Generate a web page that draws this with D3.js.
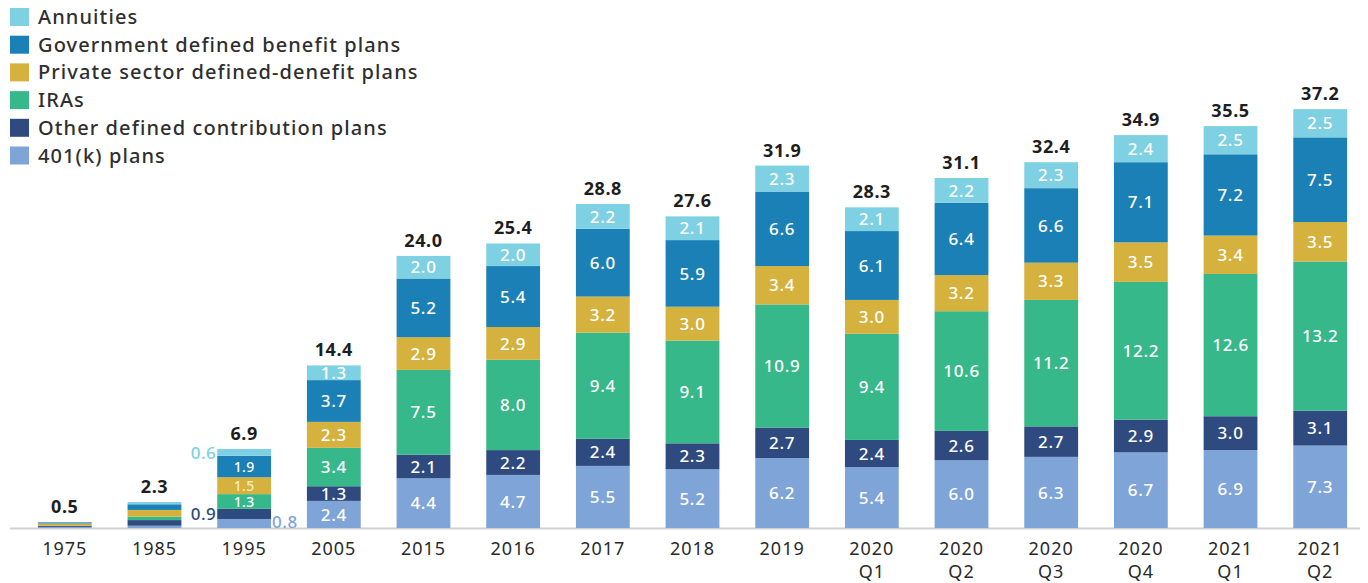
<!DOCTYPE html>
<html>
<head>
<meta charset="utf-8">
<script src="https://cdn.jsdelivr.net/npm/d3@7"></script>
<style>
  html, body { margin: 0; padding: 0; background: #fff; }
  svg { display: block; font-family: "Noto Sans", "Open Sans", sans-serif; }
</style>
</head>
<body>
<svg id="chart" width="1368" height="583"></svg>
<script>
// ---- Data ----
const categories = ["1975","1985","1995","2005","2015","2016","2017","2018","2019","2020 Q1","2020 Q2","2020 Q3","2020 Q4","2021 Q1","2021 Q2"];
const seriesNames = ["401(k) plans","Other defined contribution plans","IRAs","Private sector defined-denefit plans","Government defined benefit plans","Annuities"];
const k401      = [0.1, 0.2, 0.8, 2.4, 4.4, 4.7, 5.5, 5.2, 6.2, 5.4, 6.0, 6.3, 6.7, 6.9, 7.3];
const otherDC   = [0.1, 0.5, 0.9, 1.3, 2.1, 2.2, 2.4, 2.3, 2.7, 2.4, 2.6, 2.7, 2.9, 3.0, 3.1];
const iras      = [0.0, 0.3, 1.3, 3.4, 7.5, 8.0, 9.4, 9.1, 10.9, 9.4, 10.6, 11.2, 12.2, 12.6, 13.2];
const privateDB = [0.2, 0.6, 1.5, 2.3, 2.9, 2.9, 3.2, 3.0, 3.4, 3.0, 3.2, 3.3, 3.5, 3.4, 3.5];
const govDB     = [0.1, 0.5, 1.9, 3.7, 5.2, 5.4, 6.0, 5.9, 6.6, 6.1, 6.4, 6.6, 7.1, 7.2, 7.5];
const annuities = [0.0, 0.2, 0.6, 1.3, 2.0, 2.0, 2.2, 2.1, 2.3, 2.1, 2.2, 2.3, 2.4, 2.5, 2.5];
const totals    = [0.5, 2.3, 6.9, 14.4, 24.0, 25.4, 28.8, 27.6, 31.9, 28.3, 31.1, 32.4, 34.9, 35.5, 37.2];
const legendOrder = ["Annuities","Government defined benefit plans","Private sector defined-denefit plans","IRAs","Other defined contribution plans","401(k) plans"];
// label placement for small segments (1995): outside labels
const outsideLabels = [
  {cat: "1995", series: 5, side: "left"},
  {cat: "1995", series: 1, side: "left"},
  {cat: "1995", series: 0, side: "right"}
];
const noInnerLabels = ["1975","1985"];

// ---- Styles ----
const colors = {
  "401(k) plans": "#7fa4d8",
  "Other defined contribution plans": "#2e4a7f",
  "IRAs": "#36b88a",
  "Private sector defined-denefit plans": "#d5b13d",
  "Government defined benefit plans": "#1b80b5",
  "Annuities": "#7ed0e3"
};

const seriesArrays = [k401, otherDC, iras, privateDB, govDB, annuities];
const rows = categories.map((c, i) => {
  const o = {cat: c};
  seriesNames.forEach((s, j) => o[s] = seriesArrays[j][i]);
  return o;
});

const svg = d3.select("#chart");
const baseY = 528;
const x = d3.scaleBand().domain(categories).range([11, 1374]).paddingInner(0.4).paddingOuter(0.3);
const y = d3.scaleLinear().domain([0, 37.2]).range([baseY, 108]);

const stack = d3.stack().keys(seriesNames);
const stacked = stack(rows);

// axis line
svg.append("line")
  .attr("x1", 10).attr("x2", 1360)
  .attr("y1", baseY + 0.5).attr("y2", baseY + 0.5)
  .attr("stroke", "#d0d0d0").attr("stroke-width", 2);

// bars
const g = svg.append("g");
stacked.forEach((layer, li) => {
  g.selectAll(null).data(layer).enter().append("rect")
    .attr("x", d => x(d.data.cat))
    .attr("width", x.bandwidth())
    .attr("y", d => y(d[1]))
    .attr("height", d => Math.max(0, y(d[0]) - y(d[1])))
    .attr("fill", colors[layer.key]);
});

// inner labels
stacked.forEach((layer, li) => {
  layer.forEach((d, i) => {
    const cat = d.data.cat;
    if (noInnerLabels.includes(cat)) return;
    if (outsideLabels.some(o => o.cat === cat && o.series === li)) return;
    const v = d[1] - d[0];
    const cy = (y(d[0]) + y(d[1])) / 2;
    const small = cat === "1995";
    svg.append("text")
      .attr("x", x(cat) + x.bandwidth() / 2)
      .attr("y", cy)
      .attr("dy", "0.36em")
      .attr("text-anchor", "middle")
      .attr("fill", li === 3 && small ? "#f6ecc0" : "#ffffff")
      .attr("font-size", small ? 14 : 17)
      .attr("letter-spacing", small ? 0.3 : 0.7)
      .attr("font-weight", 500)
      .text(v.toFixed(1));
  });
});

// outside labels
outsideLabels.forEach(o => {
  const d = stacked[o.series].find(e => e.data.cat === o.cat);
  const v = d[1] - d[0];
  const cy = (y(d[0]) + y(d[1])) / 2;
  const left = o.side === "left";
  let yy = cy;
  if (o.series === 5) yy = y(d[1]) + 4;
  if (o.series === 0) yy = cy - 2;
  svg.append("text")
    .attr("x", left ? x(o.cat) - 1 : x(o.cat) + x.bandwidth() + 1)
    .attr("y", yy)
    .attr("dy", "0.36em")
    .attr("text-anchor", left ? "end" : "start")
    .attr("fill", colors[seriesNames[o.series]])
    .attr("font-size", 17)
    .attr("letter-spacing", 0.5)
    .attr("font-weight", 500)
    .text(v.toFixed(1));
});

// totals
svg.selectAll(".total").data(categories).enter().append("text")
  .attr("x", c => x(c) + x.bandwidth() / 2)
  .attr("y", (c, i) => {
    const top = stacked[stacked.length - 1][i][1];
    return y(top) - 9;
  })
  .attr("text-anchor", "middle")
  .attr("fill", "#1e1e1e")
  .attr("font-size", 18)
  .attr("letter-spacing", 0.6)
  .attr("font-weight", 700)
  .text((c, i) => totals[i].toFixed(1));

// x-axis labels
categories.forEach(c => {
  const parts = c.split(" ");
  const t = svg.append("text")
    .attr("x", x(c) + x.bandwidth() / 2)
    .attr("y", 555)
    .attr("text-anchor", "middle")
    .attr("fill", "#2a2a2a")
    .attr("font-size", 18)
    .attr("letter-spacing", 1);
  parts.forEach((p, k) => {
    t.append("tspan").attr("x", x(c) + x.bandwidth() / 2).attr("dy", k === 0 ? 0 : 23).text(p);
  });
});

// legend
const lg = svg.append("g");
legendOrder.forEach((name, i) => {
  const cy = 17 + i * 27.7;
  lg.append("rect").attr("x", 10).attr("y", cy - 9).attr("width", 19).attr("height", 18).attr("fill", colors[name]);
  lg.append("text").attr("x", 38).attr("y", cy).attr("dy", "0.35em")
    .attr("fill", "#2f2f2f").attr("font-size", 20).attr("letter-spacing", 1.1)
    .attr("font-weight", 500).text(name);
});
</script>
</body>
</html>
